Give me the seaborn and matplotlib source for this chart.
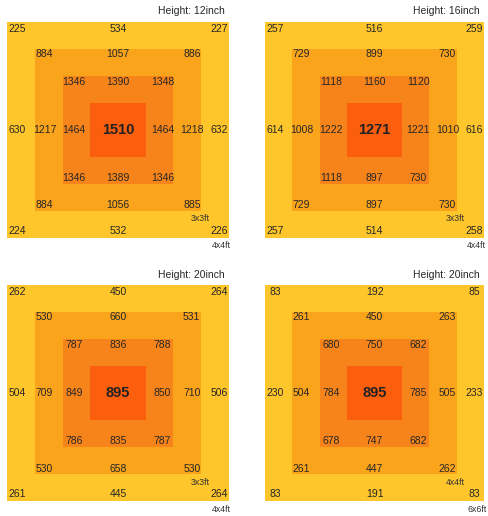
import numpy as np
import seaborn as sns
import matplotlib.pyplot as plt
from matplotlib.colors import ListedColormap

# DATA: readings per ring, clockwise from top-left:
# top-left, top, top-right, right, bottom-right, bottom, bottom-left, left
titles = ["Height: 12inch", "Height: 16inch", "Height: 20inch", "Height: 20inch"]
outer = [[225, 534, 227, 632, 226, 532, 224, 630],
         [257, 516, 259, 616, 258, 514, 257, 614],
         [262, 450, 264, 506, 264, 445, 261, 504],
         [83, 192, 85, 233, 83, 191, 83, 230]]
ring1 = [[884, 1057, 886, 1218, 885, 1056, 884, 1217],
         [729, 899, 730, 1010, 730, 897, 729, 1008],
         [530, 660, 531, 710, 530, 658, 530, 709],
         [261, 450, 263, 505, 262, 447, 261, 504]]
ring2 = [[1346, 1390, 1348, 1464, 1346, 1389, 1346, 1464],
         [1118, 1160, 1120, 1221, 730, 897, 1118, 1222],
         [787, 836, 788, 850, 787, 835, 786, 849],
         [680, 750, 682, 785, 682, 747, 678, 784]]
center = [1510, 1271, 895, 895]
inner_size = ["3x3ft", "3x3ft", "3x3ft", "4x4ft"]
outer_size = ["4x4ft", "4x4ft", "4x4ft", "6x6ft"]

ring_colors = ["#fec62b", "#f9a41b", "#f6841a", "#fb5e0c"]

sns.set_theme(style="white")
plt.rcParams['font.family'] = ['Liberation Sans', 'DejaVu Sans']

# 8x8 grid, ring level = distance to the nearest edge
n = 8
idx = np.arange(n)
levels = np.minimum.outer(np.minimum(idx, n - 1 - idx), np.minimum(idx, n - 1 - idx))

fig = plt.figure(figsize=(4.88, 5.16), dpi=100)
boxes = [[0.015, 0.539, 0.454, 0.419], [0.543, 0.539, 0.449, 0.419],
         [0.015, 0.029, 0.454, 0.419], [0.543, 0.029, 0.449, 0.419]]

# label offsets from centre for each ring (x, y)
offs_x = [3.64, 2.66, 1.6]
offs_y = [3.74, 2.8, 1.78]
dirs = [(-1, -1), (0, -1), (1, -1), (1, 0), (1, 1), (0, 1), (-1, 1), (-1, 0)]

for k in range(4):
    ax = fig.add_axes(boxes[k])
    sns.heatmap(levels, cmap=ListedColormap(ring_colors), vmin=-0.5, vmax=3.5,
                cbar=False, xticklabels=False, yticklabels=False, ax=ax)
    for r, vals in enumerate([outer[k], ring1[k], ring2[k]]):
        for (dx, dy), v in zip(dirs, vals):
            ax.text(4 + dx * offs_x[r], 4 + dy * offs_y[r], str(v),
                    ha='center', va='center', fontsize=7.5, color='#262626')
    ax.text(4, 4, str(center[k]), ha='center', va='center', fontsize=10.5,
            fontweight='bold', color='#222222')
    ax.text(7.85, -0.38, titles[k], ha='right', va='center', fontsize=7.5,
            color='#262626', clip_on=False)
    ax.text(7.3, 7.3, inner_size[k], ha='right', va='center', fontsize=6.3,
            color='#333333')
    ax.text(8.08, 8.3, outer_size[k], ha='right', va='center', fontsize=6.3,
            color='#333333', clip_on=False)
    ax.set_axis_off()

plt.savefig("out.png", dpi=100)
